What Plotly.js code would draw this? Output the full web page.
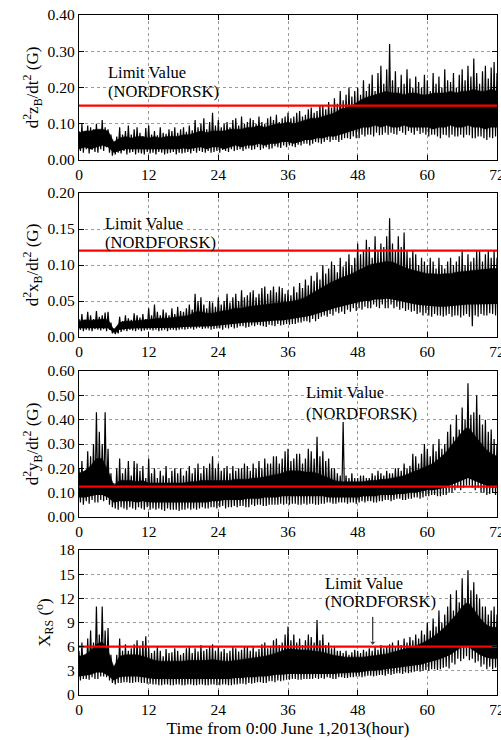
<!DOCTYPE html>
<html><head><meta charset="utf-8">
<script src="https://cdn.plot.ly/plotly-3.0.1.min.js"></script>
<style>body{margin:0;background:#fff}</style>
</head><body><div id="chart" style="width:501px;height:740px"></div>
<script>
// ---- data ----
const limitZ = 0.15, limitX = 0.12, limitY = 0.125, limitRS = 6;
const arrowX = 50.6, arrowTop = 9.7, arrowTip = 6.5;   // arrow in the X_RS panel

// per-hour core band of the dense signal (lower / upper), hours 0..72
const zLo = [0.03,0.035,0.03,0.035,0.04,0.035,0.02,0.025,0.03,0.03,0.03,0.03,0.03,0.03,0.028,0.03,0.03,0.03,0.032,0.03,0.033,0.035,0.03,0.035,0.035,0.03,0.035,0.04,0.035,0.04,0.04,0.045,0.04,0.045,0.045,0.05,0.05,0.045,0.05,0.055,0.055,0.06,0.06,0.065,0.065,0.07,0.075,0.08,0.085,0.09,0.09,0.095,0.09,0.095,0.09,0.09,0.095,0.09,0.09,0.09,0.09,0.085,0.09,0.09,0.095,0.09,0.09,0.095,0.09,0.09,0.085,0.09,0.09];
const zHi = [0.075,0.08,0.08,0.085,0.085,0.08,0.05,0.06,0.065,0.06,0.065,0.065,0.06,0.065,0.06,0.065,0.065,0.065,0.07,0.07,0.075,0.08,0.075,0.08,0.08,0.08,0.085,0.085,0.085,0.09,0.09,0.095,0.09,0.095,0.1,0.1,0.105,0.1,0.105,0.11,0.115,0.115,0.12,0.125,0.13,0.14,0.145,0.15,0.16,0.17,0.175,0.18,0.185,0.19,0.185,0.185,0.18,0.185,0.185,0.18,0.18,0.185,0.185,0.185,0.19,0.185,0.19,0.19,0.195,0.19,0.19,0.195,0.19];
// quarter-hourly extremes (peak, trough, peak, trough ...), hours 0..72
const zPeaks = [
0.08,0.025,0.10,0.02, 0.07,0.03,0.095,0.018, 0.09,0.028,0.085,0.022, 0.10,0.02,0.075,0.03, 0.11,0.025,0.09,0.035, 0.085,0.02,0.07,0.012,
0.05,0.015,0.065,0.02, 0.09,0.018,0.07,0.025, 0.08,0.015,0.095,0.02, 0.07,0.022,0.085,0.015, 0.09,0.02,0.075,0.018, 0.065,0.015,0.088,0.022,
0.095,0.018,0.07,0.02, 0.08,0.015,0.068,0.022, 0.09,0.02,0.075,0.015, 0.072,0.018,0.085,0.02, 0.08,0.022,0.09,0.015, 0.075,0.02,0.085,0.018,
0.09,0.02,0.078,0.022, 0.095,0.018,0.082,0.025, 0.11,0.02,0.09,0.025, 0.10,0.022,0.115,0.02, 0.085,0.025,0.105,0.02, 0.13,0.022,0.095,0.025,
0.11,0.02,0.09,0.028, 0.10,0.025,0.105,0.022, 0.09,0.03,0.11,0.025, 0.115,0.028,0.095,0.03, 0.12,0.025,0.10,0.03, 0.105,0.032,0.115,0.028,
0.11,0.03,0.10,0.035, 0.12,0.028,0.105,0.032, 0.10,0.035,0.115,0.03, 0.12,0.032,0.11,0.038, 0.125,0.035,0.105,0.033, 0.115,0.04,0.12,0.035,
0.13,0.04,0.115,0.038, 0.12,0.035,0.13,0.042, 0.135,0.04,0.12,0.045, 0.125,0.045,0.14,0.04, 0.145,0.045,0.13,0.05, 0.135,0.048,0.15,0.045,
0.15,0.05,0.14,0.055, 0.16,0.05,0.145,0.055, 0.17,0.055,0.155,0.05, 0.19,0.055,0.165,0.06, 0.18,0.06,0.20,0.058, 0.175,0.065,0.19,0.06,
0.20,0.06,0.18,0.07, 0.22,0.065,0.19,0.07, 0.21,0.07,0.235,0.065, 0.19,0.075,0.24,0.068, 0.26,0.07,0.21,0.075, 0.25,0.07,0.32,0.075,
0.22,0.072,0.245,0.07, 0.20,0.08,0.235,0.075, 0.21,0.07,0.25,0.08, 0.225,0.075,0.20,0.07, 0.23,0.08,0.215,0.072, 0.20,0.075,0.235,0.07,
0.22,0.065,0.19,0.07, 0.24,0.07,0.21,0.065, 0.23,0.06,0.20,0.07, 0.25,0.068,0.22,0.062, 0.215,0.07,0.24,0.065, 0.20,0.065,0.235,0.07,
0.25,0.062,0.22,0.07, 0.26,0.068,0.23,0.06, 0.28,0.06,0.24,0.065, 0.21,0.065,0.245,0.06, 0.26,0.055,0.225,0.062, 0.255,0.06,0.27,0.065,
0.24];

const xLo = [0.012,0.012,0.013,0.012,0.013,0.012,0.006,0.01,0.011,0.012,0.012,0.012,0.012,0.013,0.012,0.013,0.013,0.013,0.014,0.014,0.015,0.015,0.015,0.015,0.016,0.017,0.018,0.018,0.019,0.02,0.02,0.021,0.022,0.022,0.023,0.023,0.024,0.025,0.026,0.028,0.03,0.032,0.035,0.037,0.04,0.042,0.044,0.046,0.048,0.05,0.05,0.052,0.052,0.053,0.052,0.05,0.048,0.046,0.045,0.044,0.043,0.042,0.042,0.042,0.043,0.044,0.044,0.045,0.045,0.045,0.046,0.046,0.046];
const xHi = [0.022,0.024,0.023,0.024,0.025,0.024,0.01,0.02,0.022,0.022,0.023,0.023,0.024,0.025,0.026,0.026,0.027,0.027,0.028,0.03,0.035,0.035,0.033,0.033,0.035,0.036,0.038,0.04,0.04,0.042,0.043,0.044,0.045,0.046,0.046,0.047,0.048,0.05,0.052,0.055,0.06,0.065,0.07,0.074,0.078,0.082,0.085,0.088,0.092,0.096,0.1,0.102,0.104,0.105,0.104,0.1,0.097,0.094,0.092,0.09,0.088,0.088,0.087,0.088,0.088,0.09,0.091,0.092,0.093,0.093,0.094,0.095,0.095];
const xPeaks = [
0.025,0.01,0.032,0.008, 0.022,0.01,0.035,0.009, 0.03,0.008,0.025,0.011, 0.036,0.01,0.028,0.009, 0.03,0.011,0.034,0.008, 0.035,0.01,0.02,0.005,
0.012,0.004,0.01,0.005, 0.028,0.007,0.022,0.009, 0.03,0.008,0.026,0.01, 0.024,0.009,0.033,0.008, 0.03,0.01,0.027,0.008, 0.032,0.009,0.025,0.01,
0.04,0.01,0.03,0.009, 0.045,0.01,0.035,0.008, 0.03,0.009,0.038,0.01, 0.034,0.008,0.03,0.01, 0.04,0.01,0.032,0.009, 0.042,0.01,0.036,0.011,
0.035,0.01,0.04,0.011, 0.045,0.012,0.038,0.01, 0.06,0.012,0.05,0.013, 0.055,0.011,0.045,0.012, 0.04,0.012,0.05,0.01, 0.048,0.011,0.042,0.012,
0.055,0.012,0.045,0.01, 0.05,0.013,0.06,0.012, 0.048,0.014,0.055,0.012, 0.06,0.013,0.05,0.015, 0.065,0.015,0.055,0.013, 0.058,0.014,0.062,0.016,
0.065,0.015,0.055,0.017, 0.06,0.016,0.068,0.015, 0.07,0.014,0.06,0.017, 0.065,0.016,0.07,0.015, 0.062,0.018,0.07,0.016, 0.068,0.017,0.06,0.018,
0.065,0.017,0.058,0.018, 0.07,0.018,0.062,0.02, 0.075,0.02,0.068,0.022, 0.08,0.022,0.072,0.02, 0.085,0.025,0.078,0.022, 0.09,0.025,0.08,0.028,
0.10,0.03,0.088,0.028, 0.095,0.032,0.105,0.03, 0.10,0.035,0.09,0.033, 0.11,0.035,0.098,0.032, 0.105,0.038,0.115,0.035, 0.10,0.04,0.11,0.036,
0.13,0.04,0.115,0.038, 0.12,0.042,0.135,0.04, 0.125,0.04,0.11,0.045, 0.14,0.042,0.12,0.04, 0.13,0.045,0.125,0.04, 0.14,0.04,0.165,0.045,
0.13,0.04,0.12,0.042, 0.14,0.038,0.125,0.04, 0.145,0.036,0.12,0.038, 0.11,0.035,0.12,0.036, 0.115,0.032,0.10,0.034, 0.11,0.03,0.105,0.033,
0.10,0.03,0.11,0.028, 0.105,0.032,0.095,0.03, 0.11,0.03,0.10,0.028, 0.095,0.03,0.105,0.032, 0.11,0.028,0.10,0.03, 0.105,0.03,0.112,0.027,
0.12,0.03,0.10,0.032, 0.115,0.028,0.105,0.015, 0.11,0.03,0.12,0.028, 0.12,0.032,0.105,0.03, 0.115,0.03,0.12,0.033, 0.11,0.032,0.12,0.03,
0.11];

const yLo = [0.08,0.08,0.085,0.09,0.09,0.08,0.06,0.065,0.065,0.065,0.06,0.065,0.06,0.06,0.06,0.06,0.06,0.06,0.06,0.06,0.06,0.06,0.06,0.065,0.065,0.07,0.07,0.07,0.07,0.075,0.075,0.075,0.08,0.08,0.08,0.085,0.085,0.085,0.085,0.085,0.085,0.085,0.085,0.08,0.08,0.08,0.08,0.08,0.08,0.085,0.085,0.085,0.09,0.09,0.09,0.095,0.095,0.1,0.1,0.105,0.11,0.11,0.115,0.12,0.13,0.14,0.15,0.16,0.15,0.14,0.13,0.12,0.12];
const yHi = [0.18,0.19,0.21,0.24,0.24,0.19,0.13,0.15,0.15,0.15,0.145,0.15,0.14,0.14,0.14,0.14,0.14,0.14,0.14,0.145,0.145,0.15,0.15,0.15,0.15,0.15,0.15,0.155,0.155,0.155,0.16,0.16,0.165,0.17,0.175,0.18,0.19,0.19,0.19,0.185,0.185,0.18,0.17,0.16,0.15,0.145,0.145,0.145,0.145,0.145,0.15,0.15,0.155,0.155,0.16,0.165,0.17,0.18,0.19,0.2,0.21,0.22,0.24,0.26,0.29,0.32,0.35,0.37,0.34,0.31,0.28,0.26,0.25];
const yPeaks = [
0.20,0.06,0.23,0.05, 0.17,0.065,0.27,0.055, 0.25,0.07,0.30,0.06, 0.43,0.06,0.35,0.07, 0.30,0.065,0.43,0.07, 0.28,0.05,0.18,0.04,
0.14,0.035,0.20,0.03, 0.24,0.04,0.18,0.035, 0.20,0.03,0.23,0.04, 0.17,0.035,0.23,0.03, 0.22,0.04,0.19,0.035, 0.21,0.03,0.16,0.04,
0.24,0.03,0.18,0.035, 0.20,0.03,0.16,0.035, 0.19,0.03,0.17,0.025, 0.21,0.035,0.16,0.03, 0.19,0.03,0.20,0.03, 0.18,0.025,0.20,0.03,
0.17,0.03,0.19,0.035, 0.21,0.03,0.18,0.035, 0.20,0.03,0.22,0.035, 0.18,0.04,0.21,0.035, 0.20,0.035,0.22,0.04, 0.25,0.04,0.20,0.035,
0.22,0.04,0.19,0.045, 0.20,0.035,0.21,0.04, 0.18,0.04,0.21,0.045, 0.19,0.04,0.20,0.045, 0.20,0.045,0.22,0.04, 0.21,0.04,0.19,0.05,
0.22,0.045,0.20,0.05, 0.23,0.05,0.20,0.045, 0.24,0.045,0.22,0.05, 0.22,0.05,0.25,0.05, 0.25,0.05,0.22,0.055, 0.24,0.05,0.27,0.055,
0.28,0.05,0.23,0.055, 0.24,0.055,0.26,0.05, 0.26,0.05,0.22,0.055, 0.24,0.05,0.28,0.055, 0.27,0.055,0.24,0.05, 0.33,0.05,0.25,0.055,
0.27,0.055,0.23,0.06, 0.24,0.06,0.20,0.055, 0.20,0.055,0.18,0.06, 0.17,0.06,0.39,0.06, 0.17,0.055,0.16,0.06, 0.18,0.06,0.16,0.055,
0.16,0.06,0.17,0.065, 0.17,0.06,0.16,0.065, 0.16,0.065,0.18,0.06, 0.17,0.06,0.19,0.065, 0.18,0.065,0.17,0.07, 0.19,0.07,0.18,0.065,
0.18,0.07,0.20,0.075, 0.20,0.075,0.19,0.07, 0.22,0.07,0.20,0.075, 0.21,0.075,0.26,0.08, 0.25,0.08,0.22,0.075, 0.26,0.08,0.30,0.085,
0.28,0.085,0.25,0.09, 0.30,0.09,0.27,0.085, 0.32,0.085,0.28,0.09, 0.30,0.09,0.35,0.10, 0.38,0.10,0.33,0.11, 0.42,0.12,0.36,0.11,
0.45,0.12,0.40,0.13, 0.55,0.13,0.42,0.12, 0.43,0.11,0.50,0.12, 0.42,0.10,0.38,0.10, 0.40,0.09,0.35,0.095, 0.36,0.10,0.32,0.09,
0.30];

const rsLo = [2.3,2.4,2.5,2.8,2.8,2.4,1.8,2.2,2.3,2.3,2.3,2.2,2.1,2,2,2,2,2,2,2,2,2,2,2,2,2,2,2.1,2.1,2.2,2.2,2.3,2.3,2.4,2.5,2.5,2.6,2.6,2.6,2.6,2.6,2.6,2.6,2.6,2.6,2.7,2.7,2.8,2.8,2.9,3,3,3.1,3.2,3.3,3.4,3.5,3.6,3.7,3.8,4,4.2,4.4,4.7,5,5.5,6,6,5.5,5,4.7,4.5,4.5];
const rsHi = [4.8,5,5.5,6.3,6.6,5.5,3.5,4.8,5,5,5,4.8,4.5,4.3,4.2,4.2,4.2,4.2,4.2,4.3,4.3,4.3,4.3,4.4,4.3,4.2,4.2,4.3,4.4,4.5,4.6,4.7,4.8,5,5.2,5.5,5.7,5.7,5.6,5.6,5.5,5.4,5.3,5.1,4.9,4.8,4.7,4.7,4.7,4.7,4.8,4.9,5,5.1,5.3,5.5,5.7,5.9,6.1,6.4,6.8,7.2,7.8,8.4,9.2,10,11,11.5,10.6,9.6,8.8,8.4,8.4];
const rsPeaks = [
5.5,1.8,6.5,2, 5,2,7,1.9, 8,2.2,6.5,2, 11,2,7.5,2.3, 11,2.3,8,2.2, 8.3,1.8,5,1.5,
3.5,1.3,5,1.5, 7,1.5,5.5,1.6, 6.3,1.6,5.5,1.5, 5.8,1.5,6.3,1.6, 6.8,1.6,6,1.5, 6.7,1.5,7.3,1.4,
6,1.4,5.2,1.3, 5.5,1.3,6,1.2, 5.5,1.2,4.8,1.3, 5.7,1.3,5.2,1.2, 5.3,1.2,5.8,1.3, 5.5,1.3,5,1.2,
5.2,1.2,5.8,1.3, 6,1.3,5.2,1.2, 5.8,1.2,5.4,1.3, 6.2,1.3,5.5,1.2, 5.7,1.2,6,1.3, 6.3,1.3,5.5,1.2,
6,1.2,5.4,1.3, 5.7,1.3,5.2,1.2, 5.5,1.2,6,1.3, 5.8,1.3,5.4,1.4, 5.6,1.4,6,1.3, 6,1.5,5.5,1.4,
6,1.5,5.4,1.6, 5.7,1.6,6.3,1.5, 6.5,1.5,5.8,1.7, 6,1.7,6.8,1.6, 7,1.8,6.2,1.7, 6.5,1.8,7.5,1.9,
8.5,1.9,6.8,2, 7.5,2,6.5,1.9, 7,1.9,6.2,2, 6.8,2,7.5,2, 7.2,2,6.5,2.1, 9.3,2,6.8,2.1,
7.5,2,6.2,2.2, 6.5,2.1,5.8,2, 6,2,5.5,2.2, 5.5,2.2,5.2,2.1, 5.5,2.1,5,2.2, 5.3,2.2,5.6,2.3,
5.5,2.3,5.2,2.2, 5.6,2.3,5.4,2.4, 5.8,2.4,5.5,2.3, 6,2.4,5.6,2.5, 6.2,2.5,5.8,2.4, 6,2.6,6.3,2.5,
6.5,2.6,6,2.7, 6.8,2.7,6.2,2.6, 7,2.8,6.5,2.7, 7.2,2.8,6.8,2.9, 7.5,3,7,2.9, 8,3,7.5,3.1,
9,3,8,3.2, 9.5,3.2,8.5,3.1, 10.5,3.2,9,3.4, 10,3.5,11,3.3, 12.5,4,10.5,3.8, 13,4.5,11.5,4.2,
14.5,4.5,12,4.8, 15.5,4.3,13,4.5, 14,4,12.5,4.2, 12,3.5,11,3.8, 11,3.2,10,3.5, 10.5,3.2,11,3.4,
10];

const xTicks = [0,12,24,36,48,60,72];
const yTitles = ['d<sup>2</sup>z<sub>B</sub>/dt<sup>2</sup> (G)','d<sup>2</sup>x<sub>B</sub>/dt<sup>2</sup> (G)','d<sup>2</sup>y<sub>B</sub>/dt<sup>2</sup> (G)','X<sub>RS</sub> (<sup>o</sup>)'];
const xTitle = 'Time from 0:00 June 1,2013(hour)';
const limitText1 = 'Limit Value', limitText2 = '(NORDFORSK)';

// ---- build ----
const FONT = 'Liberation Serif';
function grid(n){ return Array.from({length:n},(_,i)=>i*72/(n-1)); }
const panels = [
  {lo:zLo, hi:zHi, pk:zPeaks, lim:limitZ, range:[0,0.4], dtick:0.1, fmt:'.2f', dom:[1-160/740,1-15/740]},
  {lo:xLo, hi:xHi, pk:xPeaks, lim:limitX, range:[0,0.2], dtick:0.05, fmt:'.2f', dom:[1-337/740,1-193/740]},
  {lo:yLo, hi:yHi, pk:yPeaks, lim:limitY, range:[0,0.6], dtick:0.1, fmt:'.2f', dom:[1-517/740,1-371/740]},
  {lo:rsLo, hi:rsHi, pk:rsPeaks, lim:limitRS, range:[0,18], dtick:3, fmt:'d', dom:[1-695/740,1-550/740]}
];
const annPos = [
  {x:4.6, y1:0.241, y2:0.189},
  {x:4.1, y1:0.158, y2:0.131},
  {x:38.7, y1:0.51, y2:0.427},
  {x:42, y1:13.9, y2:11.66}
];
const traces = [];
const layout = {
  width:501, height:740, margin:{l:0,r:0,t:0,b:0},
  paper_bgcolor:'#fff', plot_bgcolor:'#fff', showlegend:false,
  font:{family:FONT, color:'#000', size:15.5},
  annotations:[]
};
panels.forEach((p,i)=>{
  const n = i===0?'':String(i+1);
  const xa='x'+n, ya='y'+n;
  const hx = grid(p.lo.length), px = grid(p.pk.length);
  traces.push({x:hx, y:p.lo, xaxis:xa, yaxis:ya, mode:'lines', line:{width:0, color:'#000'}, hoverinfo:'skip'});
  traces.push({x:hx, y:p.hi, xaxis:xa, yaxis:ya, mode:'lines', fill:'tonexty', fillcolor:'#000', line:{width:0.5, color:'#000'}, hoverinfo:'skip'});
  traces.push({x:px, y:p.pk, xaxis:xa, yaxis:ya, mode:'lines', line:{width:1.2, color:'#000'}});
  traces.push({x:[0,72], y:[p.lim,p.lim], xaxis:xa, yaxis:ya, mode:'lines', line:{width:2.2, color:'#ff0000'}});
  const xaxis = {
    domain:[79/501,497/501], anchor:ya, range:[0,72], tickvals:xTicks, ticktext:xTicks.map(String),
    showgrid:true, gridcolor:'#9a9a9a', griddash:'dot', gridwidth:1,
    showline:true, linecolor:'#000', linewidth:1.2, mirror:'ticks', ticks:'inside', ticklen:5, tickcolor:'#000',
    zeroline:false, tickfont:{family:FONT, size:15.5}, fixedrange:true, ticklabeloverflow:'allow'
  };
  if (i===3) xaxis.title = {text:xTitle, font:{family:FONT, size:17.5}, standoff:4};
  layout['xaxis'+n] = xaxis;
  layout['yaxis'+n] = {
    domain:p.dom, anchor:xa, range:p.range, dtick:p.dtick, tick0:0, tickformat:p.fmt,
    showgrid:true, gridcolor:'#9a9a9a', griddash:'dot', gridwidth:1,
    showline:true, linecolor:'#000', linewidth:1.2, mirror:'ticks', ticks:'inside', ticklen:5, tickcolor:'#000',
    zeroline:false, tickfont:{family:FONT, size:15.5}, fixedrange:true, ticklabeloverflow:'allow',
    title:{text:yTitles[i], font:{family:FONT, size:17}, standoff:4}
  };
  const a = annPos[i];
  layout.annotations.push({xref:xa, yref:ya, x:a.x, y:a.y1, text:limitText1, showarrow:false, xanchor:'left', yanchor:'middle', font:{family:FONT, size:16.5, color:'#000'}});
  layout.annotations.push({xref:xa, yref:ya, x:a.x, y:a.y2, text:limitText2, showarrow:false, xanchor:'left', yanchor:'middle', font:{family:FONT, size:16.5, color:'#000'}});
});
// arrow in the bottom panel (line + head)
traces.push({x:[arrowX, arrowX], y:[arrowTop, arrowTip], xaxis:'x4', yaxis:'y4', mode:'lines+markers',
  line:{width:1, color:'#000'}, marker:{symbol:'triangle-down', size:[0,6], color:'#000'}});
Plotly.newPlot('chart', traces, layout, {displayModeBar:false, staticPlot:true});
</script></body></html>
